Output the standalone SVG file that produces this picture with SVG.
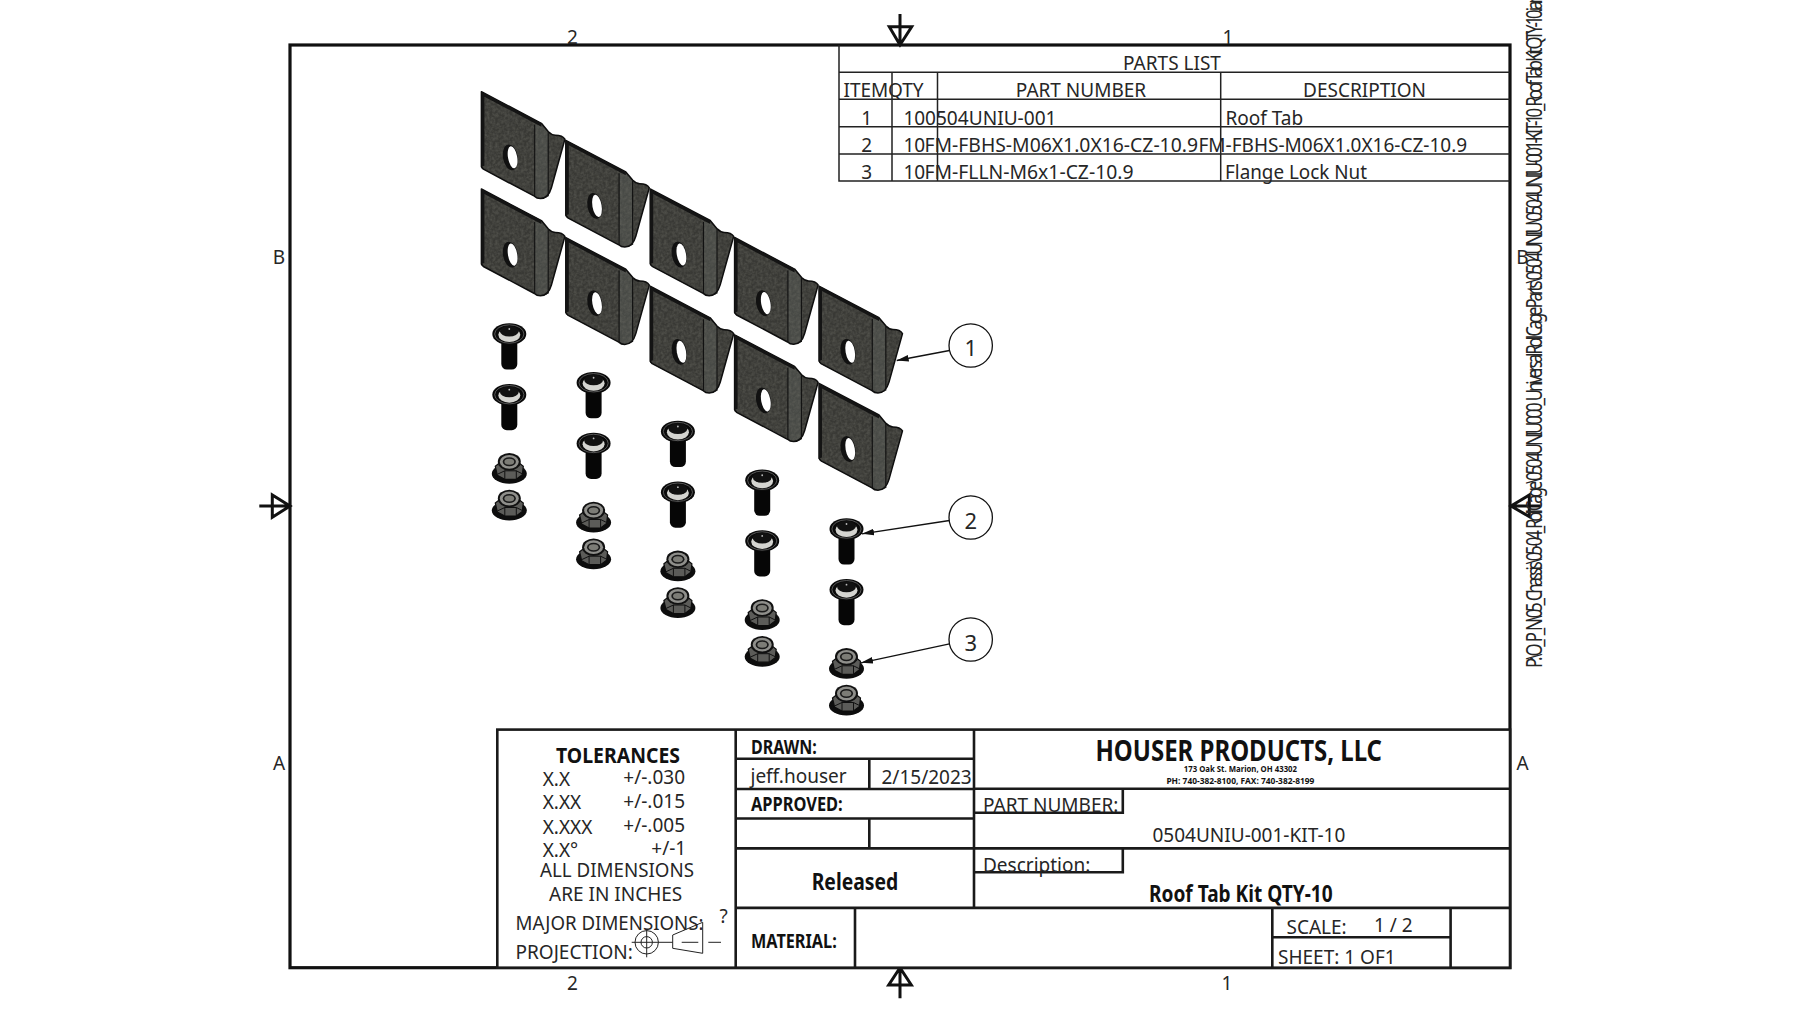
<svg xmlns="http://www.w3.org/2000/svg" xmlns:xlink="http://www.w3.org/1999/xlink" width="1800" height="1013" viewBox="0 0 1800 1013">
<style>
text{font-family:"Noto Sans","Open Sans","Liberation Sans",sans-serif;fill:#262626}
.t{font-size:19px}
.c{text-anchor:middle}
.b{font-weight:700;font-size:20px;fill:#111}
.frame{fill:none;stroke:#111;stroke-width:3.2}
.tb{fill:none;stroke:#1a1a1a;stroke-width:2.6}
.pl{fill:none;stroke:#222;stroke-width:1.5}
.cm{fill:none;stroke:#111;stroke-width:3}
.thin{fill:none;stroke:#222;stroke-width:1}
.ball{fill:#fff;stroke:#111;stroke-width:1.3}
.lead{fill:none;stroke:#111;stroke-width:1.3;marker-end:url(#ah)}
.bt{font-size:22px}
</style>
<defs>
<marker id="ah" markerUnits="userSpaceOnUse" markerWidth="13" markerHeight="8" refX="12" refY="4" orient="auto"><path d="M0,0.6 L12,4 L0,7.4 Z" fill="#111"/></marker>
<filter id="grain" x="0" y="0" width="100%" height="100%" color-interpolation-filters="sRGB">
<feTurbulence type="fractalNoise" baseFrequency="0.35" numOctaves="2" seed="4" result="n"/>
<feColorMatrix in="n" type="matrix" values="0 0 0 0 .42  0 0 0 0 .42  0 0 0 0 .39  .9 0 0 0 -.28" result="s"/>
<feComposite in="s" in2="SourceGraphic" operator="in" result="g"/>
<feMerge><feMergeNode in="SourceGraphic"/><feMergeNode in="g"/></feMerge>
</filter>
<g id="tab">
<path filter="url(#grain)" d="M0,0 L60,31.6 L67,40 C70,43 72,43.5 74,43.5 C78,43.5 82,45 83.5,47.5 L70,96 C68,103 64,106.8 59,106.8 C56,106.8 54,105.5 53,104.5 L0,76.6 Z" fill="#393935"/>
<path filter="url(#grain)" d="M53.5,33 L60,33 L66.8,40.5 L66.8,104.5 C64,106.5 60,107 58,106.5 L53.5,104.5 Z" fill="#484a46"/>
<path d="M0,0 L60,31.6 L67,40 C70,43 72,43.5 74,43.5 C78,43.5 82,45 83.5,47.5 L70,96 C68,103 64,106.8 59,106.8 C56,106.8 54,105.5 53,104.5 L2,77.5 L0,75 Z" fill="none" stroke="#0e0e0e" stroke-width="1.5" stroke-linejoin="round"/>
<path d="M0,0 L60,31.6 L60,35 L3,5 L3,74 L0,75 Z" fill="#141414"/>
<path d="M53.3,33 V104.5 M66.8,40.5 V104.5" fill="none" stroke="#111" stroke-width="1.1"/>
<ellipse cx="29" cy="65.6" rx="7.4" ry="13" transform="rotate(-10 29 65.6)" fill="#111"/>
<ellipse cx="31.2" cy="65.6" rx="4.6" ry="11.2" transform="rotate(-10 31.2 65.6)" fill="#fff"/>
</g>
<g id="bolt">
<rect x="-8" y="0" width="16" height="35.5" rx="5.5" fill="#060606"/>
<ellipse cx="0" cy="0" rx="17" ry="10.8" fill="#0a0a0a"/>
<ellipse cx="0" cy="0" rx="14.6" ry="9.2" fill="none" stroke="#777" stroke-width=".7"/>
<ellipse cx="0" cy=".8" rx="11" ry="7.2" fill="#d4d4d0"/>
<ellipse cx="0" cy="-2.8" rx="9.4" ry="5.4" fill="#111"/>
<circle cx="0" cy="-5" r=".9" fill="#bbb"/>
</g>
<g id="nut">
<ellipse cx="0" cy="5.5" rx="17.5" ry="10" fill="#0d0d0d"/>
<path d="M-14,-2 L-12,7 L-4.5,11 L7,11 L13,6.5 L14,-2 L0,-13 Z" fill="#5c5c59" stroke="#0d0d0d" stroke-width="1.2"/>
<path d="M-12,6 L-4.5,2.5 L7,2.5 L13,5.5 M-4.5,2.5 V11 M7,2.5 V11" fill="none" stroke="#111" stroke-width="1"/>
<ellipse cx="0" cy="-6.5" rx="11.5" ry="8.8" fill="#111"/>
<ellipse cx="0" cy="-6.5" rx="9.5" ry="6.9" fill="#8f8f8b"/>
<ellipse cx="0" cy="-6.5" rx="6.6" ry="4.5" fill="#1a1a1a"/>
<ellipse cx="0" cy="-6.5" rx="4.9" ry="3" fill="#7c7c76"/>
</g>
</defs>

<rect width="1800" height="1013" fill="#fff"/>

<g id="sheet-frame">
<rect class="frame" x="290" y="45" width="1220" height="922.7"/>
<path class="cm" d="M900,14 V45 M889.3,26.7 H911.7 L900,45 Z"/>
<path class="cm" d="M900,998.3 V967.7 M888.7,985 H911.3 L900,967.7 Z"/>
<path class="cm" d="M259.3,506 H290 M272.3,495 V517.3 L290,506 Z"/>
<path class="cm" d="M1540.7,506 H1511 M1529.3,495 V516.7 L1511,506 Z"/>
<text class="t c" x="572.5" y="44">2</text>
<text class="t c" x="1228" y="44">1</text>
<text class="t c" x="572.5" y="990">2</text>
<text class="t c" x="1227" y="990">1</text>
<text class="t c" x="279" y="264">B</text>
<text class="t c" x="279" y="770">A</text>
<text class="t c" x="1522.5" y="264">B</text>
<text class="t c" x="1522.5" y="770">A</text>
</g>

<g id="parts-list">
<path class="pl" d="M839,45 V181 H1510 M839,72.3 H1510 M839,99.3 H1510 M839,126.7 H1510 M839,154 H1510 M892,72.3 V181 M937.5,72.3 V181 M1220.7,72.3 V181"/>
<text class="t c" x="1172" y="70">PARTS LIST</text>
<text class="t" x="843.5" y="96.7">ITEM</text>
<text class="t" x="888" y="96.7">QTY</text>
<text class="t c" x="1081" y="96.7">PART NUMBER</text>
<text class="t c" x="1364.5" y="96.7">DESCRIPTION</text>
<text class="t c" x="866.7" y="124.5">1</text>
<text class="t" x="903.5" y="124.5">10</text>
<text class="t" x="925" y="124.5" textLength="131.5" lengthAdjust="spacingAndGlyphs">0504UNIU-001</text>
<text class="t" x="1225.5" y="124.5">Roof Tab</text>
<text class="t c" x="866.7" y="151.5">2</text>
<text class="t" x="903.5" y="151.5">10</text>
<text class="t" x="924.5" y="151.5" textLength="273.5" lengthAdjust="spacingAndGlyphs">FM-FBHS-M06X1.0X16-CZ-10.9</text>
<text class="t" x="1198.5" y="151.5">FM-FBHS-M06X1.0X16-CZ-10.9</text>
<text class="t c" x="866.7" y="179">3</text>
<text class="t" x="903.5" y="179">10</text>
<text class="t" x="924.5" y="179" textLength="209" lengthAdjust="spacingAndGlyphs">FM-FLLN-M6x1-CZ-10.9</text>
<text class="t" x="1225" y="179" textLength="142" lengthAdjust="spacingAndGlyphs">Flange Lock Nut</text>
</g>

<g id="tabs">
<use id="tab-1" xlink:href="#tab" href="#tab" x="481.4" y="91.7"/>
<use id="tab-2" xlink:href="#tab" href="#tab" x="565.8" y="140.3"/>
<use id="tab-3" xlink:href="#tab" href="#tab" x="650.2" y="188.9"/>
<use id="tab-4" xlink:href="#tab" href="#tab" x="734.6" y="237.5"/>
<use id="tab-5" xlink:href="#tab" href="#tab" x="819" y="286.1"/>
<use id="tab-6" xlink:href="#tab" href="#tab" x="481.4" y="189"/>
<use id="tab-7" xlink:href="#tab" href="#tab" x="565.8" y="237.6"/>
<use id="tab-8" xlink:href="#tab" href="#tab" x="650.2" y="286.2"/>
<use id="tab-9" xlink:href="#tab" href="#tab" x="734.6" y="334.8"/>
<use id="tab-10" xlink:href="#tab" href="#tab" x="819" y="383.4"/>
</g>
<g id="bolts">
<use xlink:href="#bolt" href="#bolt" x="509.3" y="334"/>
<use xlink:href="#bolt" href="#bolt" x="509.3" y="394.7"/>
<use xlink:href="#bolt" href="#bolt" x="593.6" y="382.75"/>
<use xlink:href="#bolt" href="#bolt" x="593.6" y="443.45"/>
<use xlink:href="#bolt" href="#bolt" x="677.9" y="431.5"/>
<use xlink:href="#bolt" href="#bolt" x="677.9" y="492.2"/>
<use xlink:href="#bolt" href="#bolt" x="762.2" y="480.25"/>
<use xlink:href="#bolt" href="#bolt" x="762.2" y="540.95"/>
<use xlink:href="#bolt" href="#bolt" x="846.5" y="529"/>
<use xlink:href="#bolt" href="#bolt" x="846.5" y="589.7"/>
</g>
<g id="nuts">
<use xlink:href="#nut" href="#nut" x="509.3" y="468.3"/>
<use xlink:href="#nut" href="#nut" x="509.3" y="505"/>
<use xlink:href="#nut" href="#nut" x="593.6" y="517"/>
<use xlink:href="#nut" href="#nut" x="593.6" y="553.7"/>
<use xlink:href="#nut" href="#nut" x="677.9" y="565.8"/>
<use xlink:href="#nut" href="#nut" x="677.9" y="602.5"/>
<use xlink:href="#nut" href="#nut" x="762.2" y="614.5"/>
<use xlink:href="#nut" href="#nut" x="762.2" y="651.2"/>
<use xlink:href="#nut" href="#nut" x="846.5" y="663.3"/>
<use xlink:href="#nut" href="#nut" x="846.5" y="700"/>
</g>

<g id="connectors">
<path class="lead" d="M949.5,350.5 L896.7,360.5"/>
<path class="lead" d="M949.5,520.5 L862,533.8"/>
<path class="lead" d="M949.5,643.8 L861,662.8"/>
</g>
<g id="balloon-1"><circle class="ball" cx="970.7" cy="345.5" r="21.7"/><text class="t c bt" x="970.7" y="356">1</text></g>
<g id="balloon-2"><circle class="ball" cx="970.7" cy="517.5" r="21.7"/><text class="t c bt" x="970.7" y="528.5">2</text></g>
<g id="balloon-3"><circle class="ball" cx="970.7" cy="639.5" r="21.7"/><text class="t c bt" x="970.7" y="650.5">3</text></g>

<g id="title-block">
<rect fill="#fff" stroke="#1a1a1a" stroke-width="2.6" x="497.3" y="729.6" width="1012.7" height="238.1"/>
<path class="tb" d="M735.7,729.6 V967.7 M974,729.6 V907.7 M735.7,758.8 H974 M735.7,789 H974 M735.7,818.5 H974 M735.7,848.4 H1510 M735.7,907.9 H1510 M974,788.7 H1510 M869.3,758.8 V789 M869.3,818.5 V848.4 M855,907.9 V967.7 M974,812.7 H1122.8 V788.7 M974,872.3 H1122.8 V848.4 M1272.3,907.9 V967.7 M1450.6,907.9 V967.7 M1272.3,937.3 H1450.6"/>
<text class="b" x="556" y="763.3" style="font-size:22px" textLength="124" lengthAdjust="spacingAndGlyphs">TOLERANCES</text>
<text class="t" x="542.7" y="786">X.X</text><text class="t" x="623.3" y="784.3">+/-.030</text>
<text class="t" x="542.7" y="809.3">X.XX</text><text class="t" x="623.3" y="808">+/-.015</text>
<text class="t" x="542.7" y="834">X.XXX</text><text class="t" x="623.3" y="831.7">+/-.005</text>
<text class="t" x="542.7" y="856.7">X.X°</text><text class="t" x="651.3" y="855">+/-1</text>
<text class="t" x="540" y="877.3" textLength="154" lengthAdjust="spacingAndGlyphs">ALL DIMENSIONS</text>
<text class="t" x="549" y="901">ARE IN INCHES</text>
<text class="t" x="515.5" y="930.3" textLength="188" lengthAdjust="spacingAndGlyphs">MAJOR DIMENSIONS:</text>
<text class="t" x="719.5" y="923.3">?</text>
<text class="t" x="515.5" y="959.3">PROJECTION:</text>
<circle class="thin" cx="646.7" cy="942.3" r="11.7"/><circle class="thin" cx="646.7" cy="942.3" r="5.7"/>
<path class="thin" d="M631.7,942.3 H672.7 M646.7,929.3 V957.3 M672.7,935 L702.7,922.3 V953.3 L672.7,948.3 Z M681.7,942.3 H698.3 M708.3,942.3 H721"/>
<text class="b" x="751" y="753.6" textLength="65.7" lengthAdjust="spacingAndGlyphs">DRAWN:</text>
<text class="t" x="750.5" y="782.7">jeff.houser</text>
<text class="t" x="881.5" y="784.3">2/15/2023</text>
<text class="b" x="751" y="811.3" textLength="91.7" lengthAdjust="spacingAndGlyphs">APPROVED:</text>
<text class="b" x="811.7" y="890" style="font-size:24px" textLength="86.6" lengthAdjust="spacingAndGlyphs">Released</text>
<text class="b" x="751" y="947.6" textLength="85.7" lengthAdjust="spacingAndGlyphs">MATERIAL:</text>
<text class="b" x="1095.5" y="761" style="font-size:29px" textLength="286.5" lengthAdjust="spacingAndGlyphs">HOUSER PRODUCTS, LLC</text>
<text class="b" x="1183.8" y="772" style="font-size:9.5px" textLength="113.2" lengthAdjust="spacingAndGlyphs">173 Oak St. Marion, OH 43302</text>
<text class="b" x="1166.4" y="784.3" style="font-size:9.5px" textLength="148" lengthAdjust="spacingAndGlyphs">PH: 740-382-8100, FAX: 740-382-8199</text>
<text class="t" x="983" y="812">PART NUMBER:</text>
<text class="t" x="1152.5" y="842">0504UNIU-001-KIT-10</text>
<text class="t" x="983" y="871.7">Description:</text>
<text class="b" x="1149" y="902" style="font-size:24px" textLength="183.6" lengthAdjust="spacingAndGlyphs">Roof Tab Kit QTY-10</text>
<text class="t" x="1286.5" y="934.3">SCALE:</text>
<text class="t" x="1374" y="932.3">1 / 2</text>
<text class="t" x="1278" y="964.3">SHEET: 1 OF1</text>
</g>

<text id="file-path" class="t" style="font-size:21px" transform="translate(1541.7 668) rotate(-90) scale(.8 1)" textLength="850" lengthAdjust="spacing">P:\O_P_N\05_Chassis\05-04_Roll Cage\0504UNIU000_Universal Roll Cage Parts\0504UNIU\0504UNIU-001-KIT-10_Roof Tab Kit QTY-10.iam</text>
</svg>
